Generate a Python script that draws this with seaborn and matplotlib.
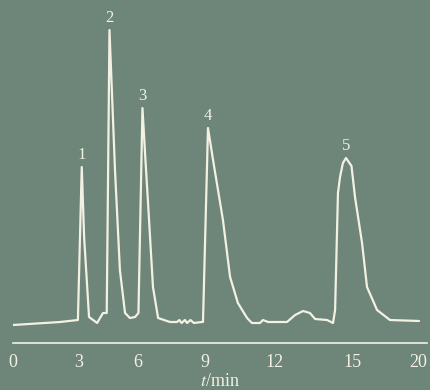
import numpy as np
import pandas as pd
import matplotlib
matplotlib.use("Agg")
import matplotlib.pyplot as plt
import seaborn as sns
from matplotlib.ticker import NullLocator

# Chromatogram trace (time in min, detector signal in arbitrary units)
time_min = [0.0, 2.14, 2.95, 3.14, 3.26, 3.51, 3.92, 4.22, 4.41, 4.55, 4.70, 4.83, 5.08, 5.34,
            5.59, 5.85, 6.02, 6.20, 6.32, 6.45, 6.67, 6.90, 7.43, 7.75, 7.85, 7.95, 8.10, 8.20,
            8.35, 8.50, 8.85, 8.91, 9.13, 9.35, 9.78, 10.09, 10.43, 10.83, 11.04, 11.39,
            11.52, 11.74, 12.50, 12.81, 13.12, 13.38, 13.58, 14.04, 14.27, 14.35, 14.46,
            14.54, 14.65, 14.77, 14.98, 15.20, 15.67, 16.00, 16.67, 17.53, 19.47]
signal = [0, 3, 5, 158, 88, 8, 2, 12, 12, 295, 220, 155, 55, 12,
          7, 8, 12, 217, 170, 122, 38, 7, 3, 3, 5, 2, 5, 2,
          5, 2, 3, 3, 197, 165, 105, 48, 22, 7, 2, 2,
          5, 3, 3, 10, 14, 12, 6, 5, 2, 15, 132,
          148, 162, 167, 159, 128, 82, 38, 15, 5, 4]

peak_labels = ["1", "2", "3", "4", "5"]
peak_times = [3.14, 4.55, 6.20, 9.13, 14.77]
peak_heights = [158, 295, 217, 197, 167]

tick_times = [0, 3, 6, 9, 12, 15, 20]
# the printed time axis is not evenly spaced; map each tick to its place on the axis
tick_place = [13, 79, 138, 205, 274, 352, 427]

df = pd.DataFrame({"t": time_min, "s": signal})

bg = "#6e857a"
fg = "#f3f1e4"

sns.set_style("white", {"axes.facecolor": bg, "figure.facecolor": bg})
plt.rcParams["font.family"] = ["Liberation Serif", "DejaVu Serif"]
plt.rcParams["mathtext.fontset"] = "stix"

fig = plt.figure(figsize=(4.3, 3.9), dpi=100)
ax = fig.add_axes([13 / 430, 47 / 390, 414 / 430, 328 / 390])

fwd = lambda x: np.interp(x, tick_times, tick_place)
inv = lambda p: np.interp(p, tick_place, tick_times)
ax.set_xscale("function", functions=(fwd, inv))

sns.lineplot(data=df, x="t", y="s", sort=False, estimator=None,
             color=fg, linewidth=1.6, ax=ax)

for lab, t, h in zip(peak_labels, peak_times, peak_heights):
    ax.text(t, h + 4, lab, color=fg, fontsize=12, ha="center", va="bottom")

ax.set_xlim(0, 20)
ax.set_ylim(-18, 310)
ax.set_xticks(tick_times)
ax.set_xticklabels([str(v) for v in tick_times])
ax.get_xticklabels()[-1].set_horizontalalignment("right")
ax.xaxis.set_minor_locator(NullLocator())
ax.set_yticks([])
ax.set_ylabel("")
ax.set_xlabel("$t$/min", color=fg, fontsize=13, labelpad=1)

for side in ["top", "left", "right"]:
    ax.spines[side].set_visible(False)
ax.spines["bottom"].set_color(fg)
ax.spines["bottom"].set_linewidth(1.2)
ax.tick_params(axis="x", direction="in", length=3, width=1, colors=fg,
               labelsize=13, pad=8, labelcolor=fg)

fig.savefig("out.png", dpi=100, facecolor=bg)
